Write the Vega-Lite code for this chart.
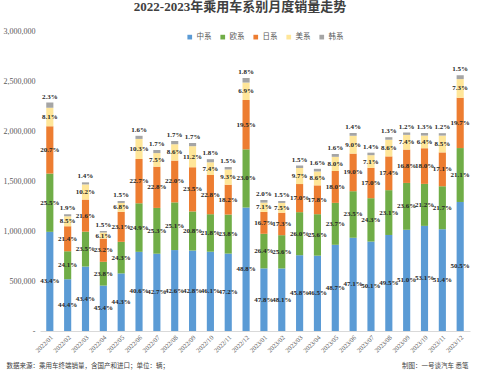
{
  "$schema": "https://vega.github.io/schema/vega-lite/v6.json",
  "autosize": {"type": "none"},
  "width": 430,
  "height": 300,
  "padding": {"left": 40, "top": 31, "right": 10, "bottom": 44},
  "background": "white",
  "title": {"text": "2022-2023年乘用车系别月度销量走势", "anchor": "middle", "offset": 13, "dx": -15, "fontSize": 13, "font": "Liberation Serif, Noto Sans CJK SC", "fontWeight": "bold", "color": "#404040"},
  "config": {"view": {"stroke": null}},
  "data": {"values": [
    {"month":"2022/01","series":"中系","value":991690,"pct":"43.4%"},{"month":"2022/01","series":"欧系","value":582675,"pct":"25.5%"},{"month":"2022/01","series":"日系","value":472995,"pct":"20.7%"},{"month":"2022/01","series":"美系","value":185085,"pct":"8.1%"},{"month":"2022/01","series":"韩系","value":52555,"pct":"2.3%"},
    {"month":"2022/02","series":"中系","value":517260,"pct":"44.4%"},{"month":"2022/02","series":"欧系","value":280765,"pct":"24.1%"},{"month":"2022/02","series":"日系","value":249310,"pct":"21.4%"},{"month":"2022/02","series":"美系","value":99025,"pct":"8.5%"},{"month":"2022/02","series":"韩系","value":22135,"pct":"1.9%"},
    {"month":"2022/03","series":"中系","value":644490,"pct":"43.4%"},{"month":"2022/03","series":"欧系","value":348975,"pct":"23.5%"},{"month":"2022/03","series":"日系","value":320760,"pct":"21.6%"},{"month":"2022/03","series":"美系","value":151470,"pct":"10.2%"},{"month":"2022/03","series":"韩系","value":20790,"pct":"1.4%"},
    {"month":"2022/04","series":"中系","value":454000,"pct":"45.4%"},{"month":"2022/04","series":"欧系","value":238000,"pct":"23.8%"},{"month":"2022/04","series":"日系","value":232000,"pct":"23.2%"},{"month":"2022/04","series":"美系","value":61000,"pct":"6.1%"},{"month":"2022/04","series":"韩系","value":15000,"pct":"1.5%"},
    {"month":"2022/05","series":"中系","value":575900,"pct":"44.3%"},{"month":"2022/05","series":"欧系","value":315900,"pct":"24.3%"},{"month":"2022/05","series":"日系","value":300300,"pct":"23.1%"},{"month":"2022/05","series":"美系","value":88400,"pct":"6.8%"},{"month":"2022/05","series":"韩系","value":19500,"pct":"1.5%"},
    {"month":"2022/06","series":"中系","value":791700,"pct":"40.6%"},{"month":"2022/06","series":"欧系","value":485550,"pct":"24.9%"},{"month":"2022/06","series":"日系","value":442650,"pct":"22.7%"},{"month":"2022/06","series":"美系","value":200850,"pct":"10.3%"},{"month":"2022/06","series":"韩系","value":31200,"pct":"1.6%"},
    {"month":"2022/07","series":"中系","value":772870,"pct":"42.7%"},{"month":"2022/07","series":"欧系","value":457930,"pct":"25.3%"},{"month":"2022/07","series":"日系","value":412680,"pct":"22.8%"},{"month":"2022/07","series":"美系","value":135750,"pct":"7.5%"},{"month":"2022/07","series":"韩系","value":30770,"pct":"1.7%"},
    {"month":"2022/08","series":"中系","value":809400,"pct":"42.6%"},{"month":"2022/08","series":"欧系","value":476900,"pct":"25.1%"},{"month":"2022/08","series":"日系","value":418000,"pct":"22.0%"},{"month":"2022/08","series":"美系","value":163400,"pct":"8.6%"},{"month":"2022/08","series":"韩系","value":32300,"pct":"1.7%"},
    {"month":"2022/09","series":"中系","value":804640,"pct":"42.8%"},{"month":"2022/09","series":"欧系","value":391040,"pct":"20.8%"},{"month":"2022/09","series":"日系","value":441800,"pct":"23.5%"},{"month":"2022/09","series":"美系","value":210560,"pct":"11.2%"},{"month":"2022/09","series":"韩系","value":31960,"pct":"1.7%"},
    {"month":"2022/10","series":"中系","value":792920,"pct":"46.1%"},{"month":"2022/10","series":"欧系","value":374960,"pct":"21.8%"},{"month":"2022/10","series":"日系","value":392160,"pct":"22.8%"},{"month":"2022/10","series":"美系","value":127280,"pct":"7.4%"},{"month":"2022/10","series":"韩系","value":30960,"pct":"1.8%"},
    {"month":"2022/11","series":"中系","value":774080,"pct":"47.2%"},{"month":"2022/11","series":"欧系","value":390320,"pct":"23.8%"},{"month":"2022/11","series":"日系","value":298480,"pct":"18.2%"},{"month":"2022/11","series":"美系","value":152520,"pct":"9.3%"},{"month":"2022/11","series":"韩系","value":24600,"pct":"1.5%"},
    {"month":"2022/12","series":"中系","value":1234640,"pct":"48.8%"},{"month":"2022/12","series":"欧系","value":581900,"pct":"23.0%"},{"month":"2022/12","series":"日系","value":493350,"pct":"19.5%"},{"month":"2022/12","series":"美系","value":174570,"pct":"6.9%"},{"month":"2022/12","series":"韩系","value":45540,"pct":"1.8%"},
    {"month":"2023/01","series":"中系","value":626180,"pct":"47.8%"},{"month":"2023/01","series":"欧系","value":345840,"pct":"26.4%"},{"month":"2023/01","series":"日系","value":218770,"pct":"16.7%"},{"month":"2023/01","series":"美系","value":93010,"pct":"7.1%"},{"month":"2023/01","series":"韩系","value":26200,"pct":"2.0%"},
    {"month":"2023/02","series":"中系","value":625300,"pct":"48.1%"},{"month":"2023/02","series":"欧系","value":332800,"pct":"25.6%"},{"month":"2023/02","series":"日系","value":224900,"pct":"17.3%"},{"month":"2023/02","series":"美系","value":97500,"pct":"7.5%"},{"month":"2023/02","series":"韩系","value":19500,"pct":"1.5%"},
    {"month":"2023/03","series":"中系","value":757990,"pct":"45.8%"},{"month":"2023/03","series":"欧系","value":430300,"pct":"26.0%"},{"month":"2023/03","series":"日系","value":281350,"pct":"17.0%"},{"month":"2023/03","series":"美系","value":160535,"pct":"9.7%"},{"month":"2023/03","series":"韩系","value":24825,"pct":"1.5%"},
    {"month":"2023/04","series":"中系","value":753300,"pct":"46.5%"},{"month":"2023/04","series":"欧系","value":414720,"pct":"25.6%"},{"month":"2023/04","series":"日系","value":288360,"pct":"17.8%"},{"month":"2023/04","series":"美系","value":139320,"pct":"8.6%"},{"month":"2023/04","series":"韩系","value":25920,"pct":"1.6%"},
    {"month":"2023/05","series":"中系","value":861990,"pct":"48.7%"},{"month":"2023/05","series":"欧系","value":419490,"pct":"23.7%"},{"month":"2023/05","series":"日系","value":318600,"pct":"18.0%"},{"month":"2023/05","series":"美系","value":141600,"pct":"8.0%"},{"month":"2023/05","series":"韩系","value":28320,"pct":"1.6%"},
    {"month":"2023/06","series":"中系","value":932580,"pct":"47.1%"},{"month":"2023/06","series":"欧系","value":465300,"pct":"23.5%"},{"month":"2023/06","series":"日系","value":376200,"pct":"19.0%"},{"month":"2023/06","series":"美系","value":178200,"pct":"9.0%"},{"month":"2023/06","series":"韩系","value":27720,"pct":"1.4%"},
    {"month":"2023/07","series":"中系","value":894285,"pct":"50.1%"},{"month":"2023/07","series":"欧系","value":433755,"pct":"24.3%"},{"month":"2023/07","series":"日系","value":303450,"pct":"17.0%"},{"month":"2023/07","series":"美系","value":126735,"pct":"7.1%"},{"month":"2023/07","series":"韩系","value":24990,"pct":"1.4%"},
    {"month":"2023/08","series":"中系","value":960300,"pct":"49.5%"},{"month":"2023/08","series":"欧系","value":448140,"pct":"23.1%"},{"month":"2023/08","series":"日系","value":337560,"pct":"17.4%"},{"month":"2023/08","series":"美系","value":166840,"pct":"8.6%"},{"month":"2023/08","series":"韩系","value":25220,"pct":"1.3%"},
    {"month":"2023/09","series":"中系","value":1012350,"pct":"51.0%"},{"month":"2023/09","series":"欧系","value":468460,"pct":"23.6%"},{"month":"2023/09","series":"日系","value":333480,"pct":"16.8%"},{"month":"2023/09","series":"美系","value":146890,"pct":"7.4%"},{"month":"2023/09","series":"韩系","value":23820,"pct":"1.2%"},
    {"month":"2023/10","series":"中系","value":1051380,"pct":"53.1%"},{"month":"2023/10","series":"欧系","value":419760,"pct":"21.2%"},{"month":"2023/10","series":"日系","value":356400,"pct":"18.0%"},{"month":"2023/10","series":"美系","value":126720,"pct":"6.4%"},{"month":"2023/10","series":"韩系","value":25740,"pct":"1.3%"},
    {"month":"2023/11","series":"中系","value":1017720,"pct":"51.4%"},{"month":"2023/11","series":"欧系","value":429660,"pct":"21.7%"},{"month":"2023/11","series":"日系","value":338580,"pct":"17.1%"},{"month":"2023/11","series":"美系","value":168300,"pct":"8.5%"},{"month":"2023/11","series":"韩系","value":23760,"pct":"1.2%"},
    {"month":"2023/12","series":"中系","value":1290275,"pct":"50.5%"},{"month":"2023/12","series":"欧系","value":539105,"pct":"21.1%"},{"month":"2023/12","series":"日系","value":503335,"pct":"19.7%"},{"month":"2023/12","series":"美系","value":186515,"pct":"7.3%"},{"month":"2023/12","series":"韩系","value":38325,"pct":"1.5%"}
  ]},
  "transform": [
    {"stack": "value", "groupby": ["month"], "as": ["y0", "y1"]}
  ],
  "encoding": {
    "x": {
      "field": "month", "type": "ordinal", "sort": null,
      "scale": {"paddingInner": 0.6, "paddingOuter": 0.35},
      "axis": {
        "title": "制图：一号谈汽车 悉笔",
        "titleX": 428, "titleY": 34, "titleAlign": "right", "titleBaseline": "middle",
        "titleFont": "Noto Sans CJK SC", "titleFontSize": 6.5, "titleFontWeight": "normal", "titleColor": "#404040",
        "labelAngle": -45, "labelFont": "Liberation Serif", "labelFontSize": 6.5, "labelColor": "#595959",
        "ticks": false, "domainColor": "#D9D9D9", "labelPadding": 3
      }
    }
  },
  "layer": [
    {
      "mark": {"type": "bar"},
      "encoding": {
        "y": {
          "field": "y1", "type": "quantitative",
          "scale": {"domain": [0, 3000000]},
          "axis": {
            "title": "数据来源：乘用车终端销量，含国产和进口；单位：辆；",
            "titleAngle": 0, "titleX": -34, "titleY": 334, "titleAlign": "left", "titleBaseline": "middle",
            "titleFont": "Noto Sans CJK SC", "titleFontSize": 6.5, "titleFontWeight": "normal", "titleColor": "#404040",
            "values": [0, 500000, 1000000, 1500000, 2000000, 2500000, 3000000],
            "labelExpr": "datum.value == 0 ? '-' : format(datum.value, ',')",
            "labelFont": "Liberation Serif", "labelFontSize": 8, "labelColor": "#595959",
            "grid": false, "domain": false, "ticks": false, "labelPadding": 5
          }
        },
        "y2": {"field": "y0"},
        "color": {
          "field": "series", "type": "nominal",
          "scale": {"domain": ["中系", "欧系", "日系", "美系", "韩系"], "range": ["#5B9BD5", "#70AD47", "#ED7D31", "#FFE699", "#A5A5A5"]},
          "legend": {
            "title": null, "orient": "none", "legendX": 146, "legendY": 2, "direction": "horizontal", "columns": 5,
            "symbolType": "square", "symbolSize": 22, "symbolStrokeWidth": 0, "labelFont": "Noto Sans CJK SC", "labelFontSize": 7.5,
            "labelColor": "#595959", "columnPadding": 7, "labelOffset": 3
          }
        }
      }
    },
    {
      "transform": [
        {"filter": "datum.series != '韩系'"},
        {"fold": ["y0", "y1"], "as": ["k", "v"]},
        {"aggregate": [{"op": "mean", "field": "v", "as": "mid"}], "groupby": ["month", "series", "pct"]}
      ],
      "mark": {"type": "text", "font": "Liberation Serif", "fontSize": 7, "fontWeight": "bold", "color": "#262626", "baseline": "middle"},
      "encoding": {
        "y": {"field": "mid", "type": "quantitative"},
        "text": {"field": "pct"}
      }
    },
    {
      "transform": [{"filter": "datum.series == '韩系'"}],
      "mark": {"type": "text", "font": "Liberation Serif", "fontSize": 7, "fontWeight": "bold", "color": "#262626", "baseline": "bottom", "dy": -3},
      "encoding": {
        "y": {"field": "y1", "type": "quantitative"},
        "text": {"field": "pct"}
      }
    }
  ]
}
